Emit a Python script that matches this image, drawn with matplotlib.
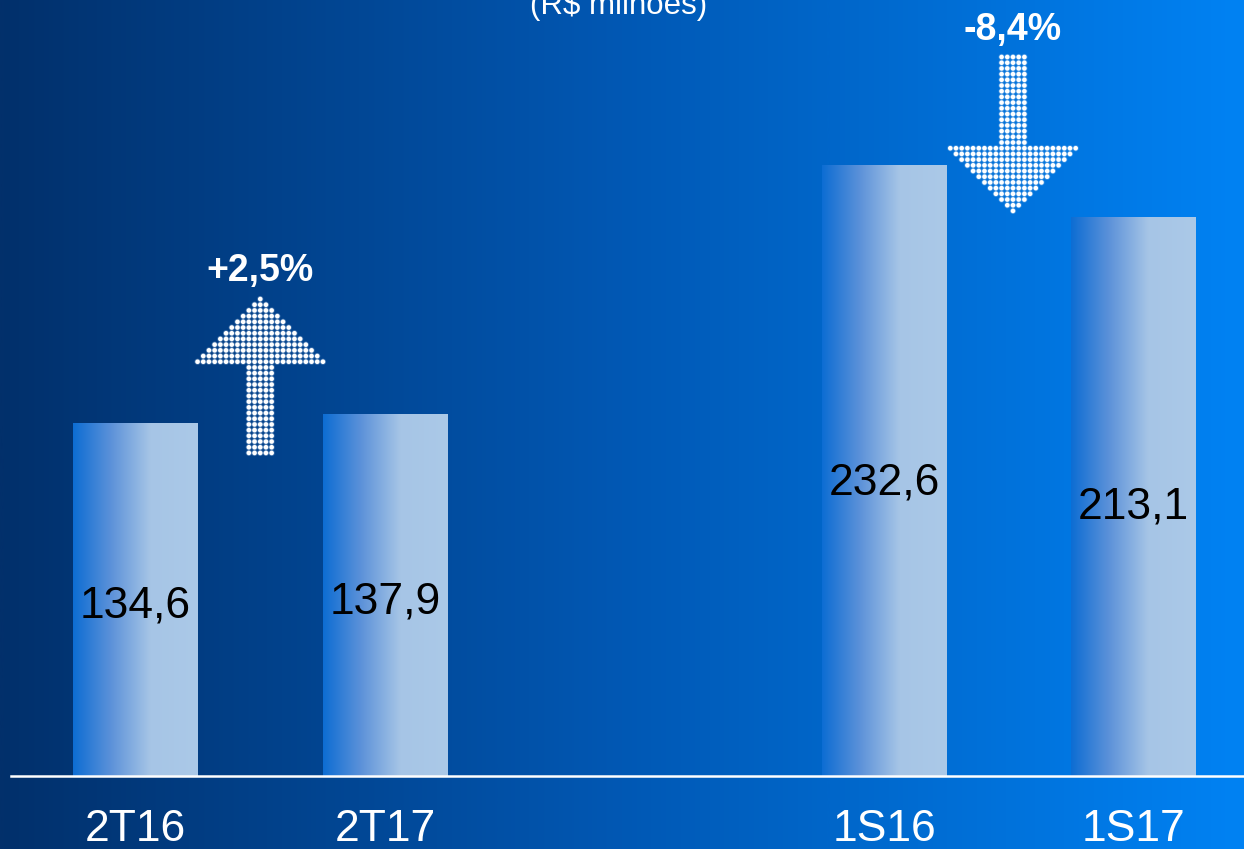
import numpy as np
import matplotlib
matplotlib.use("Agg")
import matplotlib.pyplot as plt
from matplotlib.colors import LinearSegmentedColormap

# data
categories = ["2T16", "2T17", "1S16", "1S17"]
positions = [0, 1, 3, 4]
values = [134.6, 137.9, 232.6, 213.1]
value_labels = ["134,6", "137,9", "232,6", "213,1"]
changes = ["+2,5%", "-8,4%"]
title = "(R$ milhões)"

plt.rcParams['font.family'] = ['Liberation Sans', 'DejaVu Sans']

W, H = 1244, 849
fig = plt.figure(figsize=(W / 100, H / 100), dpi=100)

# background gradient (dark navy -> bright blue)
bg_cmap = LinearSegmentedColormap.from_list("bg", ["#02306b", "#0158b4", "#0082f3"])
bg = fig.add_axes([0, 0, 1, 1])
bg.imshow(np.linspace(0, 1, 512)[None, :], cmap=bg_cmap, aspect='auto', extent=[0, 1, 0, 1])
bg.axis('off')

ax = fig.add_axes([0, 0, 1, 1])
ax.patch.set_alpha(0)
ax.set_xlim(-135.5 / 249.5, (W - 135.5) / 249.5)
ax.set_ylim(-73 / 2.625, 776 / 2.625)
ax.axis('off')

# bars with horizontal gradient
bar_cmap = LinearSegmentedColormap.from_list(
    "bar", [(0, "#0d6dd3"), (0.3, "#5b91d9"), (0.62, "#a6c5e6"), (1, "#abc9e8")])
grad = np.linspace(0, 1, 256)[None, :]
bars = ax.bar(positions, values, width=0.5, color='none', edgecolor='none', zorder=2)
for b in bars:
    x0, y0 = b.get_x(), b.get_y()
    im = ax.imshow(grad, cmap=bar_cmap, aspect='auto', zorder=2,
                   extent=[x0, x0 + b.get_width(), y0, y0 + b.get_height()])
    im.set_clip_path(b)

for p, v, lab in zip(positions, values, value_labels):
    ax.text(p, v * 0.48, lab, ha='center', va='center', fontsize=32, color='black', zorder=4)

for p, cat in zip(positions, categories):
    ax.text(p, -20.5, cat, ha='center', va='center', fontsize=32, color='white', zorder=4)

# baseline
ax.axhline(0, xmin=11 / W, xmax=1, color='white', lw=1.8, zorder=3)


def dotted_arrow(ax, xc, y_top, direction):
    """Block arrow drawn as a grid of white dots."""
    dx = 5.7 / 249.5
    dy = 5.7 / 2.625
    head_rows, shaft_rows = 12, 16
    xs, ys = [], []
    for r in range(head_rows + shaft_rows):
        if direction == 'up':
            half = r if r < head_rows else 2
        else:
            rr = head_rows + shaft_rows - 1 - r
            half = rr if rr < head_rows else 2
        for c in range(-half, half + 1):
            xs.append(xc + c * dx)
            ys.append(y_top - r * dy)
    ax.scatter(xs, ys, s=20, color='#bcd4f0', alpha=0.3, edgecolors='none', zorder=5)
    ax.scatter(xs, ys, s=11, color='white', edgecolors='none', zorder=5)


# up arrow between 2T16 and 2T17, down arrow between 1S16 and 1S17
x_up = (positions[0] + positions[1]) / 2
x_dn = (positions[2] + positions[3]) / 2 + 0.017
dotted_arrow(ax, x_up, 181.7, 'up')
dotted_arrow(ax, x_dn, 273.9, 'down')
ax.text(x_up, 192.3, changes[0], ha='center', va='center', fontsize=27,
        fontweight='bold', color='white', zorder=5)
ax.text(x_dn, 284.3, changes[1], ha='center', va='center', fontsize=27,
        fontweight='bold', color='white', zorder=5)

fig.text(619 / W, 1 - 14 / H, title, ha='center', va='baseline', fontsize=22.5, color='white')

fig.savefig("out.png", dpi=100)
